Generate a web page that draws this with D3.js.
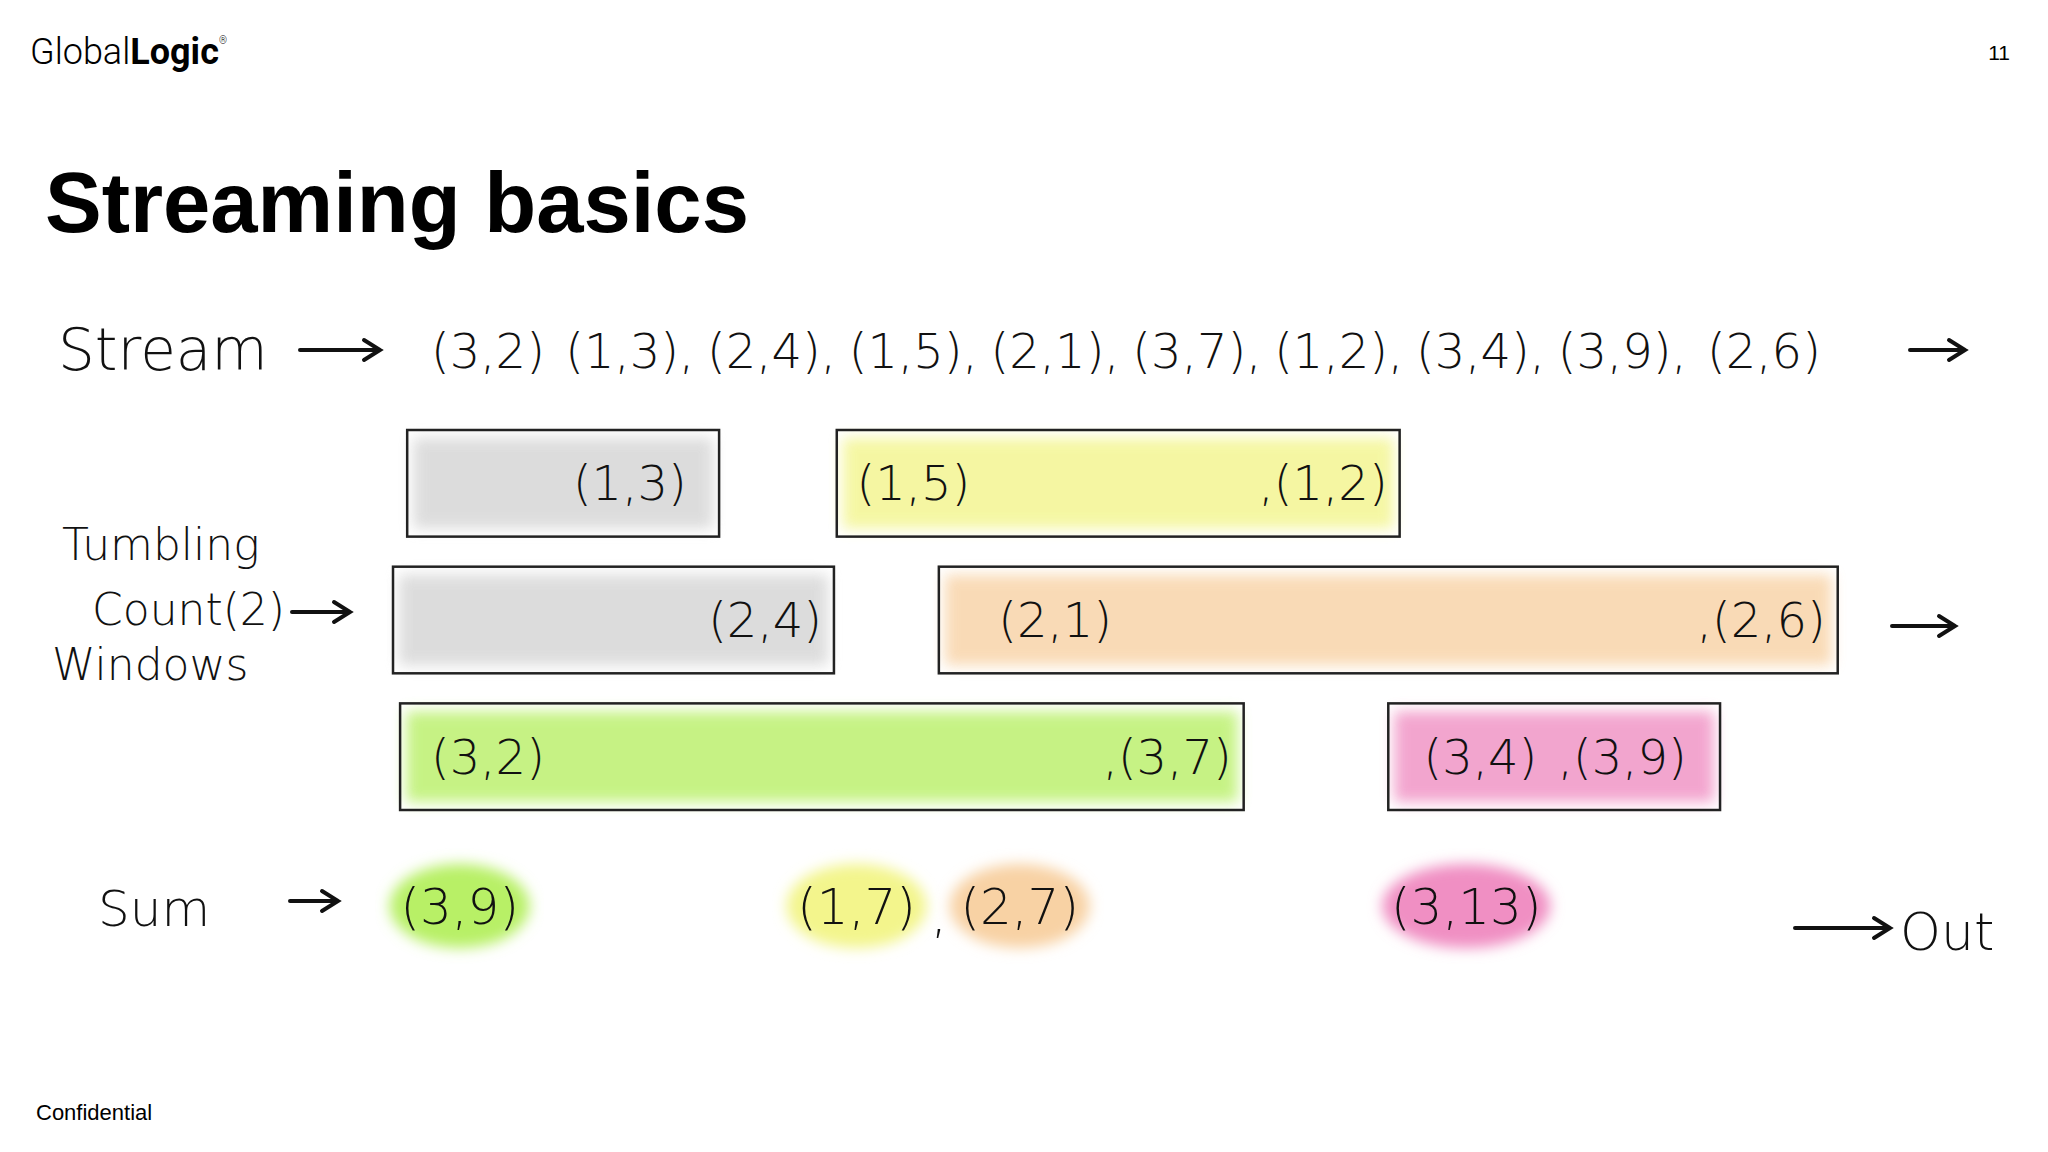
<!DOCTYPE html>
<html><head><meta charset="utf-8">
<script src="https://cdn.jsdelivr.net/npm/d3@7"></script>
<style>body{margin:0;background:#fff}</style>
</head><body>
<svg id="chart" width="2048" height="1152"></svg>
<script>
// stream of (key, value) tuples in arrival order
const streamKeys   = [3, 1, 2, 1, 2, 3, 1, 3, 3, 2];
const streamValues = [2, 3, 4, 5, 1, 7, 2, 4, 9, 6];

// tumbling count(2) windows: row key, start/end in stream-index units, members
const windowKeys   = [1, 1, 2, 2, 3, 3];
const windowFrom   = [-0.57, 2.46, -0.67, 3.18, -0.62, 6.35];
const windowTo     = [1.63, 6.43, 2.44, 9.52, 5.33, 8.69];
const windowItems  = [[1], [3, 6], [2], [4, 9], [0, 5], [7, 8]];
const windowColors = ['#d4d4d4', '#f3f58c', '#d4d4d4', '#f8d2a4', '#b8f066', '#f08fc3'];

// sums emitted per window
const sumLabels = ['(3,9)', '(1,7)', '(2,7)', '(3,13)'];
const sumPos    = [-0.2, 2.6, 3.75, 6.9];
const sumColors = ['#b8f066', '#f3f58c', '#f8d2a4', '#f08fc3'];

const svg = d3.select('#chart');
const hand = "'DejaVu Sans', sans-serif";

const x = d3.scaleLinear().domain([0, 9]).range([488, 1764]);
const y = d3.scaleBand().domain([1, 2, 3]).range([430, 810]).paddingInner(0.22);

// blur filter for the marker look
const defs = svg.append('defs');
defs.append('filter').attr('id', 'blur').attr('x', '-10%').attr('y', '-30%').attr('width', '120%').attr('height', '160%')
  .append('feGaussianBlur').attr('stdDeviation', 7);

// header
svg.append('text').attr('x', 30).attr('y', 64).attr('font-family', 'Roboto, sans-serif').attr('font-size', 36).attr('font-weight', 300)
  .html('Global<tspan font-weight="bold">Logic</tspan><tspan font-size="10" dy="-20">®</tspan>');
svg.append('text').attr('x', 2010).attr('y', 60).attr('text-anchor', 'end').attr('font-family', 'Liberation Sans, sans-serif')
  .attr('font-size', 21).text('11');
svg.append('text').attr('x', 45).attr('y', 232).attr('font-family', 'Liberation Sans, sans-serif')
  .attr('font-weight', 'bold').attr('font-size', 85).text('Streaming basics');
svg.append('text').attr('x', 36).attr('y', 1120).attr('font-family', 'Liberation Sans, sans-serif')
  .attr('font-size', 22).text('Confidential');

function arrow(x1, x2, yy) {
  svg.append('path').attr('d', `M${x1},${yy}H${x2}M${x2 - 16},${yy - 10}L${x2},${yy}L${x2 - 16},${yy + 10}`)
    .attr('fill', 'none').attr('stroke', '#111').attr('stroke-width', 4).attr('stroke-linecap', 'round');
}
function label(t, xx, yy, size, anchor) {
  svg.append('text').attr('x', xx).attr('y', yy).attr('font-family', hand).attr('font-weight', 300)
    .attr('font-size', size).attr('text-anchor', anchor || 'start').attr('fill', '#111').text(t);
}

// stream row
const streamY = 350;
label('Stream', 58, streamY + 20, 58);
arrow(300, 380, streamY);
svg.append('g').selectAll('text').data(streamKeys).join('text')
  .attr('x', (d, i) => x(i)).attr('y', streamY + 18).attr('text-anchor', 'middle')
  .attr('font-family', hand).attr('font-weight', 300).attr('font-size', 48).attr('fill', '#111')
  .text((d, i) => `(${d},${streamValues[i]})` + (i < 9 && i > 0 ? ',' : ''));
arrow(1910, 1965, streamY);

// windows
label('Tumbling', 62, 560, 44);
label('Count(2)', 92, 625, 44);
label('Windows', 52, 680, 44);
arrow(292, 350, 612);
arrow(1892, 1955, 626);

const win = svg.append('g').selectAll('g').data(windowKeys).join('g');
win.append('rect')
  .attr('x', (d, i) => x(windowFrom[i]) + 6).attr('y', d => y(d) + 8)
  .attr('width', (d, i) => x(windowTo[i]) - x(windowFrom[i]) - 12).attr('height', y.bandwidth() - 16)
  .attr('fill', (d, i) => windowColors[i]).attr('filter', 'url(#blur)').attr('opacity', 0.8);
win.append('rect')
  .attr('x', (d, i) => x(windowFrom[i])).attr('y', d => y(d))
  .attr('width', (d, i) => x(windowTo[i]) - x(windowFrom[i])).attr('height', y.bandwidth())
  .attr('fill', 'none').attr('stroke', '#222').attr('stroke-width', 2.5);
win.each(function (d, i) {
  const lo = x(windowFrom[i]) + 12, hi = x(windowTo[i]) - 12;
  d3.select(this).selectAll('text').data(windowItems[i]).join('text')
    .attr('y', y(d) + y.bandwidth() / 2 + 17).attr('text-anchor', 'start')
    .attr('font-family', hand).attr('font-weight', 300).attr('font-size', 48).attr('fill', '#111')
    .text((j, k) => (k > 0 ? ',' : '') + `(${streamKeys[j]},${streamValues[j]})`)
    .attr('x', function (j) {
      const w = this.getComputedTextLength();
      return Math.max(lo, Math.min(hi - w, x(j) - w / 2));
    });
});

// sums
const sumY = 906;
label('Sum', 98, sumY + 20, 50);
arrow(290, 338, sumY - 5);
const sums = svg.append('g').selectAll('g').data(sumLabels).join('g');
sums.append('ellipse').attr('cx', (d, i) => x(sumPos[i])).attr('cy', sumY)
  .attr('rx', (d) => d.length * 14).attr('ry', 42)
  .attr('fill', (d, i) => sumColors[i]).attr('filter', 'url(#blur)');
sums.append('text').attr('x', (d, i) => x(sumPos[i])).attr('y', sumY + 18).attr('text-anchor', 'middle')
  .attr('font-family', hand).attr('font-weight', 300).attr('font-size', 50).attr('fill', '#111')
  .text(d => d);
label(',', x(3.18), sumY + 26, 50, 'middle');
arrow(1795, 1890, 928);
label('Out', 1900, 950, 52);
</script>
</body></html>
